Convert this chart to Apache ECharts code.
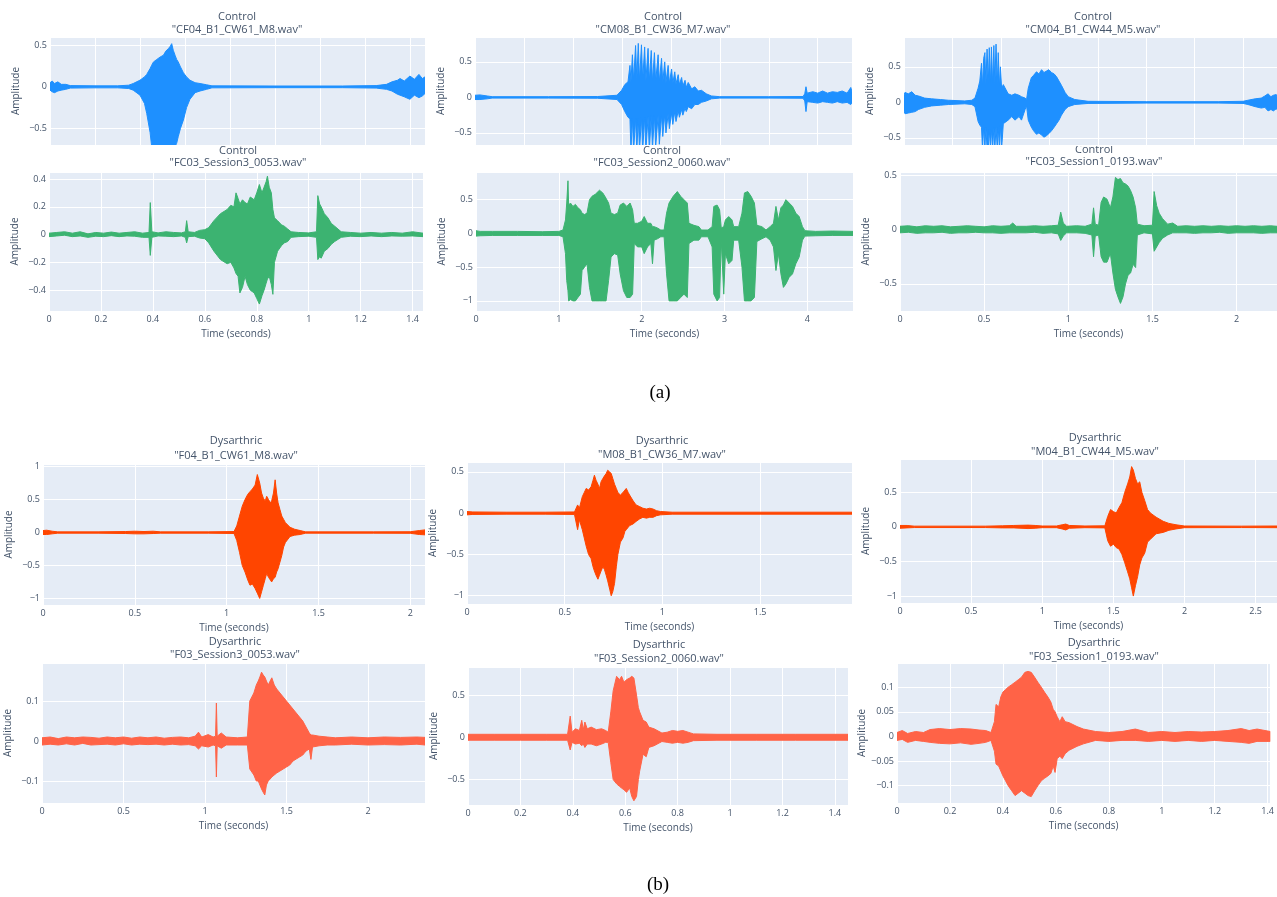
<!DOCTYPE html>
<html><head><meta charset="utf-8">
<script src="https://cdn.jsdelivr.net/npm/echarts@6/dist/echarts.min.js"></script>
<style>html,body{margin:0;padding:0;background:#fff}#chart{width:1277px;height:897px}</style>
</head><body><div id="chart"></div>
<script>
// ---- Data: waveform envelopes, each knot = [time (s or axis units), upper, lower] ----
const ctrl_CF04 = [[0,0.05,-0.04],[0.01,0.07,-0.06],[0.02,0.04,-0.07],[0.035,0.06,-0.05],[0.05,0.03,-0.04],[0.07,0.03,-0.03],[0.09,0.015,-0.015],[0.2,0.012,-0.012],[0.3,0.012,-0.012],[0.35,0.02,-0.02],[0.37,0.04,-0.04],[0.4,0.08,-0.1],[0.42,0.12,-0.2],[0.43,0.15,-0.32],[0.445,0.22,-0.55],[0.452,0.26,-0.72],[0.46,0.3,-0.75],[0.475,0.33,-0.75],[0.49,0.36,-0.75],[0.504,0.38,-0.75],[0.515,0.43,-0.75],[0.526,0.46,-0.75],[0.535,0.49,-0.75],[0.541,0.52,-0.75],[0.548,0.44,-0.75],[0.556,0.38,-0.72],[0.563,0.33,-0.68],[0.57,0.3,-0.6],[0.58,0.24,-0.5],[0.593,0.17,-0.4],[0.607,0.12,-0.25],[0.622,0.08,-0.15],[0.645,0.05,-0.07],[0.667,0.04,-0.05],[0.696,0.025,-0.03],[0.72,0.012,-0.012],[1.0,0.01,-0.01],[1.3,0.01,-0.01],[1.45,0.015,-0.015],[1.496,0.03,-0.03],[1.52,0.06,-0.05],[1.545,0.08,-0.09],[1.556,0.1,-0.1],[1.575,0.07,-0.12],[1.6,0.13,-0.15],[1.62,0.09,-0.1],[1.64,0.15,-0.13],[1.655,0.1,-0.11],[1.667,0.12,-0.08]];
const ctrl_CM08 = [[0,0.03,-0.03],[0.02,0.035,-0.03],[0.05,0.02,-0.02],[0.07,0.01,-0.01],[0.3,0.01,-0.01],[0.5,0.012,-0.012],[0.58,0.03,-0.03],[0.599,0.1,-0.1],[0.612,0.18,-0.2],[0.625,0.22,-0.28],[0.633,0.45,-0.3],[0.637,0.22,-0.75],[0.643,0.6,-0.3],[0.648,0.24,-0.75],[0.656,0.73,-0.3],[0.661,0.25,-0.75],[0.667,0.76,-0.3],[0.672,0.24,-0.75],[0.68,0.74,-0.28],[0.685,0.24,-0.75],[0.693,0.71,-0.28],[0.698,0.23,-0.75],[0.707,0.69,-0.27],[0.712,0.23,-0.75],[0.72,0.66,-0.26],[0.725,0.22,-0.72],[0.733,0.63,-0.26],[0.738,0.22,-0.7],[0.748,0.6,-0.25],[0.753,0.22,-0.66],[0.762,0.55,-0.25],[0.767,0.21,-0.55],[0.775,0.5,-0.24],[0.78,0.21,-0.5],[0.789,0.45,-0.23],[0.794,0.2,-0.44],[0.803,0.4,-0.22],[0.808,0.2,-0.38],[0.816,0.36,-0.2],[0.821,0.19,-0.34],[0.83,0.32,-0.19],[0.835,0.18,-0.28],[0.844,0.28,-0.17],[0.849,0.16,-0.25],[0.858,0.24,-0.15],[0.863,0.14,-0.2],[0.871,0.21,-0.13],[0.885,0.12,-0.16],[0.898,0.15,-0.1],[0.912,0.09,-0.1],[0.925,0.1,-0.07],[0.945,0.05,-0.05],[0.966,0.02,-0.02],[1.0,0.01,-0.01],[1.2,0.01,-0.01],[1.34,0.012,-0.012],[1.347,0.05,-0.05],[1.352,0.15,-0.2],[1.357,0.06,-0.06],[1.38,0.08,-0.07],[1.4,0.06,-0.08],[1.42,0.09,-0.06],[1.44,0.06,-0.07],[1.46,0.08,-0.08],[1.48,0.07,-0.06],[1.5,0.09,-0.08],[1.52,0.06,-0.07],[1.535,0.14,-0.1],[1.54,0.08,-0.08]];
const ctrl_CM04 = [[0,0.1,-0.12],[0.004,0.14,-0.16],[0.018,0.12,-0.15],[0.032,0.15,-0.14],[0.046,0.1,-0.13],[0.06,0.09,-0.1],[0.085,0.06,-0.07],[0.114,0.05,-0.05],[0.15,0.04,-0.04],[0.183,0.03,-0.03],[0.251,0.02,-0.02],[0.28,0.03,-0.03],[0.293,0.06,-0.06],[0.306,0.2,-0.27],[0.313,0.3,-0.32],[0.32,0.55,-0.35],[0.324,0.22,-0.65],[0.329,0.62,-0.35],[0.334,0.7,-0.65],[0.338,0.25,-0.36],[0.343,0.75,-0.65],[0.348,0.26,-0.65],[0.352,0.77,-0.38],[0.357,0.26,-0.65],[0.361,0.78,-0.38],[0.366,0.25,-0.65],[0.371,0.8,-0.36],[0.375,0.25,-0.65],[0.38,0.82,-0.35],[0.385,0.24,-0.65],[0.389,0.7,-0.35],[0.394,0.22,-0.65],[0.398,0.5,-0.32],[0.403,0.2,-0.65],[0.41,0.25,-0.3],[0.43,0.12,-0.25],[0.445,0.1,-0.2],[0.458,0.12,-0.25],[0.475,0.1,-0.2],[0.485,0.08,-0.25],[0.5,0.06,-0.1],[0.506,0.04,-0.05],[0.513,0.2,-0.25],[0.526,0.35,-0.35],[0.535,0.38,-0.4],[0.547,0.43,-0.45],[0.557,0.4,-0.43],[0.568,0.46,-0.46],[0.578,0.42,-0.49],[0.588,0.44,-0.47],[0.598,0.46,-0.44],[0.609,0.42,-0.4],[0.62,0.4,-0.35],[0.63,0.36,-0.3],[0.64,0.3,-0.25],[0.65,0.24,-0.18],[0.665,0.14,-0.1],[0.678,0.08,-0.06],[0.705,0.04,-0.03],[0.76,0.015,-0.015],[1.0,0.01,-0.01],[1.3,0.01,-0.01],[1.4,0.015,-0.015],[1.42,0.03,-0.03],[1.45,0.05,-0.06],[1.475,0.06,-0.08],[1.49,0.09,-0.07],[1.503,0.12,-0.12],[1.515,0.08,-0.1],[1.525,0.1,-0.12],[1.537,0.11,-0.09],[1.54,0.08,-0.1]];
const ctrl_FC03_S3 = [[0,0.01,-0.015],[0.03,0.015,-0.01],[0.06,0.02,-0.005],[0.09,0.01,-0.015],[0.12,0.02,-0.01],[0.15,0.005,-0.02],[0.18,0.015,-0.012],[0.21,0.01,-0.015],[0.24,0.018,-0.008],[0.27,0.01,-0.015],[0.3,0.015,-0.01],[0.33,0.02,-0.012],[0.36,0.01,-0.02],[0.385,0.015,-0.02],[0.39,0.23,-0.15],[0.396,0.02,-0.02],[0.42,0.012,-0.01],[0.45,0.02,-0.012],[0.48,0.015,-0.015],[0.51,0.012,-0.01],[0.525,0.02,-0.02],[0.53,0.1,-0.06],[0.536,0.02,-0.015],[0.56,0.015,-0.012],[0.58,0.03,-0.025],[0.6,0.035,-0.03],[0.615,0.05,-0.06],[0.635,0.1,-0.12],[0.66,0.15,-0.18],[0.686,0.18,-0.21],[0.7,0.21,-0.2],[0.712,0.2,-0.24],[0.72,0.3,-0.28],[0.728,0.26,-0.3],[0.735,0.22,-0.42],[0.745,0.25,-0.38],[0.755,0.23,-0.3],[0.764,0.22,-0.36],[0.775,0.27,-0.4],[0.79,0.25,-0.42],[0.8,0.3,-0.46],[0.81,0.36,-0.5],[0.82,0.3,-0.44],[0.828,0.34,-0.4],[0.836,0.38,-0.35],[0.841,0.42,-0.32],[0.848,0.34,-0.3],[0.856,0.3,-0.36],[0.862,0.18,-0.43],[0.868,0.12,-0.2],[0.88,0.1,-0.12],[0.895,0.07,-0.08],[0.906,0.06,-0.06],[0.919,0.04,-0.05],[0.932,0.02,-0.02],[0.96,0.015,-0.015],[1.0,0.012,-0.012],[1.03,0.02,-0.02],[1.035,0.28,-0.18],[1.042,0.22,-0.16],[1.048,0.2,-0.17],[1.06,0.15,-0.12],[1.074,0.12,-0.1],[1.087,0.08,-0.07],[1.1,0.06,-0.05],[1.125,0.02,-0.02],[1.16,0.015,-0.012],[1.2,0.01,-0.015],[1.24,0.015,-0.01],[1.28,0.01,-0.015],[1.32,0.015,-0.01],[1.36,0.01,-0.012],[1.4,0.02,-0.01],[1.44,0.01,-0.015]];
const ctrl_FC03_S2 = [[0,0.04,-0.04],[0.05,0.03,-0.035],[0.2,0.03,-0.03],[0.5,0.03,-0.03],[0.8,0.025,-0.03],[1.0,0.03,-0.03],[1.05,0.05,-0.05],[1.08,0.2,-0.3],[1.095,0.45,-0.7],[1.11,0.78,-0.85],[1.118,0.42,-1.0],[1.14,0.45,-0.98],[1.17,0.4,-1.0],[1.2,0.43,-1.0],[1.23,0.38,-0.95],[1.26,0.35,-0.9],[1.28,0.3,-0.55],[1.31,0.28,-0.5],[1.34,0.3,-0.45],[1.37,0.5,-0.8],[1.4,0.55,-1.0],[1.44,0.58,-1.0],[1.49,0.64,-1.0],[1.53,0.6,-1.0],[1.57,0.52,-1.0],[1.6,0.45,-0.7],[1.63,0.3,-0.35],[1.67,0.28,-0.3],[1.71,0.3,-0.32],[1.74,0.42,-0.6],[1.78,0.45,-0.85],[1.82,0.4,-0.95],[1.86,0.45,-0.95],[1.89,0.35,-0.9],[1.91,0.15,-0.15],[1.95,0.15,-0.2],[2.0,0.18,-0.2],[2.03,0.25,-0.3],[2.07,0.15,-0.2],[2.11,0.15,-0.15],[2.13,0.1,-0.45],[2.15,0.1,-0.1],[2.19,0.08,-0.08],[2.23,0.05,-0.05],[2.27,0.05,-0.05],[2.3,0.3,-0.6],[2.33,0.45,-1.0],[2.38,0.55,-1.0],[2.43,0.62,-1.0],[2.47,0.55,-0.95],[2.51,0.5,-0.9],[2.55,0.45,-0.95],[2.57,0.15,-0.15],[2.63,0.12,-0.1],[2.69,0.1,-0.1],[2.72,0.05,-0.05],[2.8,0.05,-0.05],[2.85,0.1,-0.2],[2.87,0.4,-0.9],[2.91,0.42,-1.0],[2.94,0.35,-0.95],[2.96,0.08,-0.1],[2.99,0.1,-0.9],[3.01,0.2,-0.3],[3.05,0.25,-0.45],[3.09,0.2,-0.4],[3.11,0.1,-0.1],[3.17,0.1,-0.1],[3.21,0.3,-0.5],[3.24,0.6,-1.0],[3.28,0.62,-1.0],[3.32,0.55,-1.0],[3.36,0.45,-0.95],[3.39,0.12,-0.12],[3.45,0.1,-0.08],[3.5,0.05,-0.05],[3.55,0.1,-0.1],[3.59,0.15,-0.2],[3.62,0.4,-0.55],[3.65,0.2,-0.3],[3.68,0.38,-0.6],[3.71,0.42,-0.8],[3.74,0.5,-0.75],[3.78,0.45,-0.65],[3.82,0.4,-0.6],[3.86,0.3,-0.45],[3.9,0.25,-0.35],[3.94,0.1,-0.1],[3.97,0.04,-0.04],[4.1,0.03,-0.035],[4.3,0.035,-0.03],[4.55,0.03,-0.03]];
const ctrl_FC03_S1 = [[0,0.03,-0.03],[0.05,0.035,-0.025],[0.1,0.025,-0.035],[0.15,0.035,-0.03],[0.2,0.03,-0.03],[0.25,0.035,-0.025],[0.3,0.025,-0.035],[0.35,0.03,-0.03],[0.4,0.035,-0.03],[0.45,0.03,-0.025],[0.5,0.025,-0.03],[0.55,0.035,-0.03],[0.6,0.03,-0.035],[0.65,0.035,-0.03],[0.67,0.06,-0.03],[0.69,0.03,-0.03],[0.75,0.03,-0.03],[0.8,0.035,-0.025],[0.85,0.03,-0.035],[0.9,0.035,-0.03],[0.94,0.04,-0.04],[0.955,0.16,-0.1],[0.97,0.06,-0.06],[0.99,0.03,-0.03],[1.05,0.035,-0.03],[1.1,0.03,-0.035],[1.14,0.05,-0.05],[1.15,0.2,-0.25],[1.16,0.05,-0.06],[1.18,0.04,-0.05],[1.195,0.25,-0.25],[1.21,0.3,-0.3],[1.23,0.28,-0.3],[1.25,0.2,-0.22],[1.265,0.3,-0.4],[1.28,0.48,-0.55],[1.295,0.46,-0.62],[1.31,0.47,-0.68],[1.325,0.43,-0.62],[1.34,0.42,-0.5],[1.355,0.4,-0.42],[1.37,0.36,-0.4],[1.385,0.3,-0.32],[1.4,0.2,-0.35],[1.41,0.05,-0.05],[1.45,0.035,-0.03],[1.5,0.04,-0.04],[1.51,0.35,-0.2],[1.525,0.22,-0.16],[1.54,0.15,-0.12],[1.56,0.1,-0.08],[1.59,0.05,-0.05],[1.62,0.06,-0.03],[1.65,0.03,-0.03],[1.7,0.035,-0.03],[1.75,0.03,-0.035],[1.8,0.035,-0.03],[1.85,0.03,-0.03],[1.9,0.035,-0.025],[1.95,0.03,-0.035],[2.0,0.035,-0.03],[2.05,0.03,-0.03],[2.1,0.035,-0.03],[2.15,0.03,-0.035],[2.2,0.035,-0.03],[2.24,0.03,-0.03]];
const dys_F04 = [[0,0.03,-0.03],[0.02,0.035,-0.03],[0.05,0.02,-0.02],[0.08,0.01,-0.01],[0.3,0.01,-0.01],[0.45,0.015,-0.015],[0.5,0.02,-0.02],[0.55,0.015,-0.02],[0.6,0.02,-0.015],[0.64,0.01,-0.01],[0.9,0.01,-0.01],[1.04,0.015,-0.015],[1.055,0.1,-0.12],[1.07,0.25,-0.3],[1.085,0.4,-0.5],[1.1,0.5,-0.6],[1.115,0.58,-0.72],[1.127,0.62,-0.8],[1.14,0.66,-0.78],[1.155,0.72,-0.85],[1.167,0.88,-0.92],[1.18,0.75,-1.0],[1.19,0.6,-0.9],[1.2,0.52,-0.8],[1.21,0.48,-0.7],[1.218,0.55,-0.62],[1.228,0.5,-0.68],[1.238,0.45,-0.72],[1.245,0.48,-0.75],[1.255,0.6,-0.7],[1.264,0.8,-0.68],[1.272,0.6,-0.6],[1.28,0.45,-0.55],[1.29,0.35,-0.45],[1.3,0.25,-0.35],[1.31,0.2,-0.22],[1.32,0.15,-0.15],[1.345,0.08,-0.06],[1.37,0.05,-0.04],[1.4,0.03,-0.03],[1.43,0.01,-0.01],[1.8,0.01,-0.01],[2.0,0.012,-0.012],[2.05,0.03,-0.03],[2.08,0.04,-0.035]];
const dys_M08 = [[0,0.02,-0.02],[0.03,0.015,-0.015],[0.2,0.012,-0.012],[0.4,0.012,-0.012],[0.55,0.015,-0.015],[0.566,0.1,-0.2],[0.575,0.06,-0.08],[0.59,0.2,-0.2],[0.6,0.25,-0.3],[0.61,0.3,-0.4],[0.622,0.28,-0.5],[0.635,0.32,-0.55],[0.645,0.4,-0.65],[0.652,0.46,-0.7],[0.66,0.4,-0.75],[0.67,0.35,-0.8],[0.678,0.3,-0.75],[0.686,0.38,-0.7],[0.695,0.42,-0.65],[0.703,0.45,-0.68],[0.712,0.48,-0.75],[0.72,0.52,-0.82],[0.73,0.5,-0.92],[0.738,0.48,-1.0],[0.746,0.42,-0.95],[0.755,0.35,-0.85],[0.764,0.3,-0.65],[0.772,0.25,-0.5],[0.785,0.22,-0.35],[0.798,0.25,-0.3],[0.808,0.28,-0.22],[0.815,0.3,-0.2],[0.825,0.25,-0.17],[0.832,0.22,-0.15],[0.85,0.15,-0.13],[0.865,0.1,-0.1],[0.883,0.08,-0.07],[0.9,0.06,-0.05],[0.918,0.05,-0.06],[0.935,0.06,-0.05],[0.952,0.05,-0.05],[0.97,0.03,-0.03],[0.99,0.02,-0.02],[1.05,0.012,-0.012],[1.5,0.012,-0.012],[1.97,0.012,-0.012]];
const dys_M04 = [[0,0.02,-0.02],[0.05,0.02,-0.015],[0.1,0.01,-0.01],[0.6,0.01,-0.01],[0.72,0.015,-0.015],[0.8,0.02,-0.015],[0.9,0.025,-0.025],[0.95,0.02,-0.02],[1.0,0.012,-0.012],[1.1,0.012,-0.012],[1.14,0.03,-0.03],[1.165,0.04,-0.045],[1.19,0.02,-0.02],[1.3,0.012,-0.012],[1.44,0.015,-0.015],[1.46,0.15,-0.2],[1.48,0.25,-0.28],[1.5,0.22,-0.25],[1.52,0.2,-0.3],[1.54,0.28,-0.32],[1.56,0.35,-0.4],[1.58,0.5,-0.52],[1.6,0.62,-0.65],[1.615,0.72,-0.75],[1.628,0.87,-0.88],[1.64,0.82,-1.0],[1.655,0.7,-0.85],[1.67,0.62,-0.72],[1.685,0.65,-0.55],[1.7,0.5,-0.45],[1.72,0.38,-0.38],[1.74,0.25,-0.22],[1.76,0.2,-0.18],[1.8,0.14,-0.1],[1.85,0.08,-0.08],[1.89,0.05,-0.05],[1.94,0.03,-0.03],[2.0,0.012,-0.012],[2.4,0.01,-0.01],[2.65,0.012,-0.012]];
const dys_F03_S3 = [[0,0.008,-0.01],[0.05,0.01,-0.008],[0.1,0.006,-0.01],[0.15,0.01,-0.007],[0.2,0.008,-0.01],[0.25,0.01,-0.006],[0.3,0.009,-0.01],[0.35,0.007,-0.009],[0.4,0.01,-0.008],[0.45,0.008,-0.01],[0.5,0.01,-0.007],[0.55,0.007,-0.01],[0.6,0.01,-0.008],[0.65,0.008,-0.009],[0.7,0.01,-0.008],[0.75,0.007,-0.01],[0.8,0.009,-0.008],[0.85,0.01,-0.01],[0.9,0.008,-0.009],[0.94,0.012,-0.012],[0.96,0.022,-0.02],[0.98,0.01,-0.012],[1.02,0.016,-0.015],[1.05,0.01,-0.01],[1.065,0.012,-0.012],[1.07,0.095,-0.09],[1.075,0.012,-0.012],[1.1,0.02,-0.018],[1.13,0.01,-0.01],[1.2,0.008,-0.01],[1.26,0.01,-0.01],[1.275,0.1,-0.07],[1.3,0.12,-0.085],[1.315,0.14,-0.1],[1.327,0.15,-0.1],[1.337,0.16,-0.11],[1.347,0.172,-0.12],[1.357,0.165,-0.128],[1.367,0.16,-0.135],[1.377,0.15,-0.11],[1.388,0.14,-0.1],[1.4,0.15,-0.095],[1.41,0.158,-0.09],[1.425,0.14,-0.085],[1.44,0.13,-0.08],[1.46,0.12,-0.075],[1.48,0.11,-0.07],[1.5,0.1,-0.065],[1.52,0.09,-0.06],[1.54,0.08,-0.05],[1.56,0.07,-0.045],[1.58,0.06,-0.04],[1.6,0.05,-0.035],[1.62,0.035,-0.025],[1.64,0.02,-0.02],[1.65,0.015,-0.046],[1.66,0.015,-0.015],[1.7,0.012,-0.012],[1.75,0.01,-0.01],[1.8,0.008,-0.01],[1.9,0.01,-0.008],[2.0,0.008,-0.01],[2.1,0.01,-0.009],[2.2,0.009,-0.01],[2.3,0.01,-0.008],[2.35,0.009,-0.01]];
const dys_F03_S2 = [[0,0.035,-0.035],[0.1,0.035,-0.035],[0.2,0.035,-0.035],[0.3,0.035,-0.035],[0.38,0.035,-0.035],[0.39,0.25,-0.15],[0.397,0.06,-0.06],[0.41,0.1,-0.08],[0.425,0.08,-0.07],[0.434,0.2,-0.1],[0.44,0.09,-0.08],[0.446,0.18,-0.12],[0.455,0.1,-0.08],[0.47,0.12,-0.08],[0.49,0.09,-0.1],[0.51,0.1,-0.08],[0.525,0.08,-0.06],[0.535,0.06,-0.06],[0.545,0.3,-0.3],[0.554,0.55,-0.5],[0.567,0.72,-0.55],[0.578,0.68,-0.58],[0.586,0.72,-0.6],[0.595,0.65,-0.62],[0.605,0.68,-0.65],[0.617,0.7,-0.6],[0.625,0.72,-0.7],[0.633,0.7,-0.75],[0.643,0.5,-0.7],[0.65,0.35,-0.5],[0.655,0.3,-0.4],[0.668,0.2,-0.2],[0.68,0.18,-0.23],[0.69,0.12,-0.12],[0.71,0.1,-0.1],[0.74,0.05,-0.05],[0.76,0.06,-0.06],[0.78,0.08,-0.07],[0.8,0.07,-0.06],[0.82,0.08,-0.07],[0.84,0.06,-0.06],[0.86,0.04,-0.04],[0.95,0.035,-0.035],[1.1,0.035,-0.035],[1.25,0.035,-0.035],[1.45,0.035,-0.035]];
const dys_F03_S1 = [[0,0.008,-0.008],[0.02,0.012,-0.006],[0.04,0.006,-0.012],[0.07,0.01,-0.008],[0.1,0.008,-0.01],[0.125,0.014,-0.012],[0.16,0.016,-0.014],[0.2,0.014,-0.015],[0.24,0.016,-0.013],[0.28,0.015,-0.016],[0.31,0.013,-0.014],[0.335,0.012,-0.012],[0.355,0.008,-0.008],[0.368,0.03,-0.03],[0.374,0.065,-0.056],[0.384,0.06,-0.06],[0.392,0.08,-0.07],[0.4,0.09,-0.08],[0.41,0.095,-0.09],[0.42,0.1,-0.1],[0.433,0.105,-0.11],[0.446,0.11,-0.12],[0.458,0.115,-0.115],[0.47,0.12,-0.11],[0.483,0.13,-0.115],[0.495,0.132,-0.12],[0.507,0.13,-0.122],[0.52,0.12,-0.11],[0.532,0.11,-0.1],[0.545,0.1,-0.09],[0.557,0.09,-0.085],[0.57,0.08,-0.08],[0.581,0.07,-0.075],[0.59,0.055,-0.06],[0.597,0.05,-0.073],[0.605,0.04,-0.045],[0.615,0.03,-0.04],[0.624,0.04,-0.045],[0.635,0.03,-0.035],[0.65,0.028,-0.028],[0.68,0.02,-0.02],[0.704,0.015,-0.015],[0.75,0.01,-0.008],[0.8,0.008,-0.01],[0.85,0.01,-0.008],[0.9,0.015,-0.008],[0.95,0.008,-0.01],[1.0,0.01,-0.008],[1.05,0.008,-0.01],[1.1,0.01,-0.008],[1.15,0.009,-0.01],[1.2,0.01,-0.008],[1.25,0.012,-0.01],[1.3,0.016,-0.012],[1.33,0.012,-0.014],[1.36,0.015,-0.01],[1.41,0.01,-0.01]];

const groupNames = ['Control','Control','Control','Control','Control','Control','Dysarthric','Dysarthric','Dysarthric','Dysarthric','Dysarthric','Dysarthric'];
const fileNames = ['"CF04_B1_CW61_M8.wav"','"CM08_B1_CW36_M7.wav"','"CM04_B1_CW44_M5.wav"','"FC03_Session3_0053.wav"','"FC03_Session2_0060.wav"','"FC03_Session1_0193.wav"','"F04_B1_CW61_M8.wav"','"M08_B1_CW36_M7.wav"','"M04_B1_CW44_M5.wav"','"F03_Session3_0053.wav"','"F03_Session2_0060.wav"','"F03_Session1_0193.wav"'];
const envelopes = [ctrl_CF04, ctrl_CM08, ctrl_CM04, ctrl_FC03_S3, ctrl_FC03_S2, ctrl_FC03_S1, dys_F04, dys_M08, dys_M04, dys_F03_S3, dys_F03_S2, dys_F03_S1];
// axis ranges: [xMax, xStep], [yMin, yMax, yStep]
const xRanges = [[1.667,0.2],[1.54,0.2],[1.54,0.2],[1.44,0.2],[4.55,1],[2.24,0.5],[2.08,0.5],[1.97,0.5],[2.65,0.5],[2.35,0.5],[1.45,0.2],[1.41,0.2]];
const yRanges = [[-0.7,0.6,0.5],[-0.67,0.85,0.5],[-0.6,0.92,0.5],[-0.55,0.45,0.2],[-1.15,0.91,0.5],[-0.75,0.53,0.5],[-1.1,1.04,0.5],[-1.1,0.62,0.5],[-1.1,0.98,0.5],[-0.155,0.195,0.1],[-0.8,0.83,0.5],[-0.135,0.149,0.05]];
const captions = ['(a)','(b)'];
const xTitle = 'Time (seconds)';
const yTitle = 'Amplitude';

// ---- Layout / style ----
const BLUE='#1E90FF', GREEN='#3CB371', ORED='#FF4500', TOMATO='#FF6347';
const colors = [BLUE,BLUE,BLUE,GREEN,GREEN,GREEN,ORED,ORED,ORED,TOMATO,TOMATO,TOMATO];
const grids = [[50,37,375,108],[475,37,377,108],[904,37,373,108],
               [49,172,374,139],[476,172,377,139],[900,172,377,139],
               [43,464,382,141],[467,462,385,142],[900,459,377,144],
               [42,663,383,140],[468,667,380,138],[897,663,380,140]];
const titlePos = [[237,17,30],[663,17,30],[1093,17,30],[238,151,163],[662,151,163],[1094,150,162],
                  [236,441,456],[662,441,455],[1095,438,452],[235,642,655],[659,645,659],[1094,643,657]];
const TXT = '#44546a';
const FONT = '"Open Sans", "DejaVu Sans", sans-serif';

function fmt(v){ return String(+v.toFixed(6)).replace('-', '\u2212'); }

function makeRender(color){
  return function(params, api){
    if (params.dataIndexInside !== 0) return null;
    const n = params.dataInsideLength;
    const top = [], bot = [];
    for (let i = 0; i < n; i++) {
      const t = api.value(0, i);
      top.push(api.coord([t, api.value(1, i)]));
      bot.push(api.coord([t, api.value(2, i)]));
    }
    const pts = top.concat(bot.reverse());
    const cs = params.coordSys;
    return {
      type: 'group',
      clipPath: {type: 'rect', shape: {x: cs.x, y: cs.y, width: cs.width, height: cs.height}},
      children: [{type: 'polygon', shape: {points: pts}, style: {fill: color, stroke: color, lineWidth: 1, lineJoin: 'round'}}]
    };
  };
}

const option = {
  animation: false,
  backgroundColor: '#ffffff',
  grid: grids.map(g => ({left: g[0], top: g[1], width: g[2], height: g[3], show: true, backgroundColor: '#E5ECF6', borderWidth: 0})),
  xAxis: grids.map((g, i) => {
    const showX = i >= 3 && !(i >= 6 && i < 6) ;
    const labelled = (i >= 3);
    return {
      type: 'value', gridIndex: i, min: 0, max: xRanges[i][0],
      minInterval: xRanges[i][1], maxInterval: xRanges[i][1], splitNumber: 6,
      axisLine: {show: false}, axisTick: {show: false},
      splitLine: {show: true, lineStyle: {color: '#ffffff', width: 1}},
      axisLabel: {show: labelled, fontSize: 9, color: TXT, fontFamily: FONT, margin: 4, showMaxLabel: false, formatter: fmt},
      name: labelled ? xTitle : '', nameLocation: 'middle', nameGap: 18,
      nameTextStyle: {fontSize: 10, color: TXT, fontFamily: FONT}
    };
  }),
  yAxis: grids.map((g, i) => ({
    type: 'value', gridIndex: i, min: yRanges[i][0], max: yRanges[i][1],
    minInterval: yRanges[i][2], maxInterval: yRanges[i][2], splitNumber: 4,
    axisLine: {show: false}, axisTick: {show: false},
    splitLine: {show: true, lineStyle: {color: '#ffffff', width: 1}},
    axisLabel: {fontSize: 9, color: TXT, fontFamily: FONT, margin: 3, showMinLabel: false, showMaxLabel: false, formatter: fmt},
    name: yTitle, nameLocation: 'middle', nameGap: 29,
    nameTextStyle: {fontSize: 10, color: TXT, fontFamily: FONT}
  })),
  series: envelopes.map((env, i) => ({
    type: 'custom', xAxisIndex: i, yAxisIndex: i,
    encode: {x: 0, y: [1, 2]},
    data: env,
    renderItem: makeRender(colors[i]),
    silent: true
  })),
  graphic: [].concat(
    titlePos.map((p, i) => ({type: 'text', x: p[0], y: p[1], style: {text: groupNames[i], fill: TXT, font: '11px ' + FONT, textAlign: 'center', textVerticalAlign: 'middle'}})),
    titlePos.map((p, i) => ({type: 'text', x: p[0], y: p[2], style: {text: fileNames[i], fill: TXT, font: '11px ' + FONT, textAlign: 'center', textVerticalAlign: 'middle'}})),
    [{type: 'text', x: 660, y: 393, style: {text: captions[0], fill: '#000', font: '19px "Liberation Serif", "Times New Roman", serif', textAlign: 'center', textVerticalAlign: 'middle'}},
     {type: 'text', x: 658, y: 885, style: {text: captions[1], fill: '#000', font: '19px "Liberation Serif", "Times New Roman", serif', textAlign: 'center', textVerticalAlign: 'middle'}}]
  )
};

const chart = echarts.init(document.getElementById('chart'), null, {renderer: 'canvas'});
chart.setOption(option);
</script>
</body></html>
